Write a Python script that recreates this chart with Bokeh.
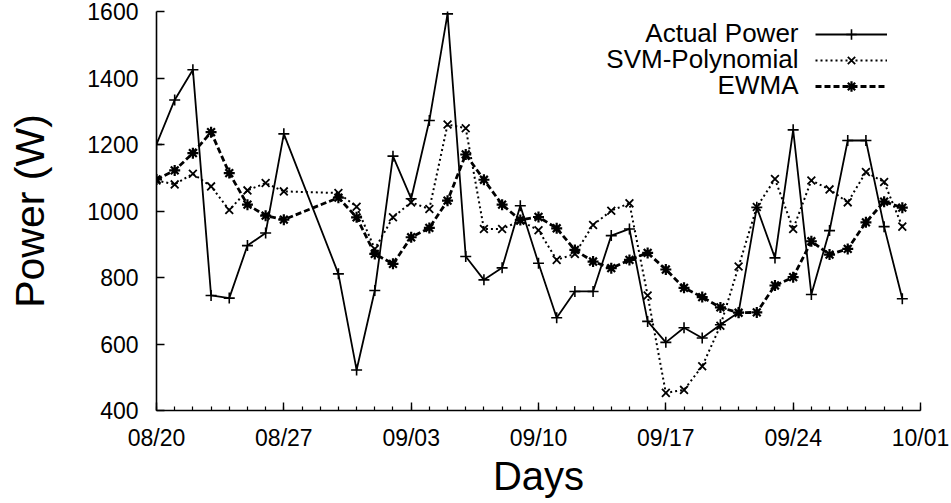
import pandas as pd
from bokeh.plotting import figure
from bokeh.models import (FixedTicker, DatetimeTickFormatter, Range1d, Legend,
                          LegendItem, Label)
from bokeh.embed import file_html
from bokeh.resources import INLINE

# ---------------- data ----------------
YEAR = "2013"
dates = ["08/20", "08/21", "08/22", "08/23", "08/24", "08/25", "08/26", "08/27",
         "08/30", "08/31", "09/01", "09/02", "09/03", "09/04", "09/05", "09/06",
         "09/07", "09/08", "09/09", "09/10", "09/11", "09/12", "09/13", "09/14",
         "09/15", "09/16", "09/17", "09/18", "09/19", "09/20", "09/21", "09/22",
         "09/23", "09/24", "09/25", "09/26", "09/27", "09/28", "09/29", "09/30"]

actual_power = [1200, 1334, 1425, 746, 738, 896, 934, 1232,
                811, 522, 761, 1165, 1037, 1272, 1593, 863,
                793, 829, 1016, 843, 679, 758, 758, 926,
                946, 668, 605, 649, 618, 658, 695, 1011,
                859, 1244, 749, 941, 1212, 1212, 953, 736]

svm_polynomial = [1092, 1080, 1112, 1074, 1003, 1062, 1084, 1059,
                  1054, 1013, 886, 981, 1026, 1006, 1260, 1249,
                  946, 946, 971, 942, 853, 871, 958, 1001,
                  1023, 746, 453, 462, 533, 655, 833, 1012,
                  1096, 946, 1092, 1065, 1026, 1117, 1087, 953]

ewma = [1095, 1122, 1174, 1237, 1114, 1019, 986, 974,
        1040, 981, 871, 841, 921, 949, 1031, 1170,
        1094, 1019, 973, 982, 948, 883, 848, 828,
        853, 874, 824, 769, 741, 710, 694, 695,
        776, 801, 909, 869, 886, 966, 1028, 1010]

x_tick_labels = ["08/20", "08/27", "09/03", "09/10", "09/17", "09/24", "10/01"]
y_ticks = [400, 600, 800, 1000, 1200, 1400, 1600]
series_names = ["Actual Power", "SVM-Polynomial", "EWMA"]


def to_dt(labels):
    return pd.to_datetime([f"{YEAR}/{d}" for d in labels], format="%Y/%m/%d")


x = to_dt(dates)
x_major = to_dt(x_tick_labels)
x_minor = pd.date_range(x_major[0], x_major[-1], freq="D")


def ms(ts):
    return [t.value / 1e6 for t in ts]


FONT = "Liberation Sans"

p = figure(width=951, height=503, x_axis_type="datetime",
           output_backend="svg", toolbar_location=None,
           x_range=Range1d(x_major[0], x_major[-1]),
           y_range=Range1d(y_ticks[0], y_ticks[-1]),
           min_border_left=156, min_border_right=31,
           min_border_top=11, min_border_bottom=93)
p.outline_line_color = None
p.grid.visible = False
p.background_fill_color = "white"
p.border_fill_color = "white"

# axes
p.xaxis.ticker = FixedTicker(ticks=ms(x_major), minor_ticks=ms(x_minor))
p.xaxis.formatter = DatetimeTickFormatter(
    milliseconds="%m/%d", seconds="%m/%d", minsec="%m/%d", minutes="%m/%d",
    hourmin="%m/%d", hours="%m/%d", days="%m/%d", months="%m/%d", years="%m/%d")
p.yaxis.ticker = FixedTicker(ticks=y_ticks, minor_ticks=[])

for ax in (p.xaxis[0], p.yaxis[0]):
    ax.axis_line_color = "black"
    ax.axis_line_width = 1.6
    ax.major_tick_line_color = "black"
    ax.major_tick_line_width = 1.4
    ax.minor_tick_line_color = "black"
    ax.minor_tick_line_width = 1.2
    ax.major_tick_in = 8
    ax.major_tick_out = 0
    ax.minor_tick_in = 4
    ax.minor_tick_out = 0
    ax.major_label_text_font = FONT
    ax.major_label_text_font_size = "23px"
    ax.major_label_text_color = "black"
    ax.axis_label_text_font = FONT
    ax.axis_label_text_font_style = "normal"
    ax.axis_label_text_color = "black"

p.yaxis.major_label_standoff = 18
p.xaxis.major_label_standoff = 14
p.yaxis.axis_label = "Power (W)"
p.yaxis.axis_label_text_font_size = "41px"
p.yaxis.axis_label_standoff = 31
p.xaxis.axis_label = "Days"
p.xaxis.axis_label_text_font_size = "40px"
p.xaxis.axis_label_standoff = 0

# series
r1l = p.line(x, actual_power, line_color="black", line_width=1.8)
r1m = p.scatter(x, actual_power, marker="cross", size=11, line_color="black",
                line_width=1.6)
r2l = p.line(x, svm_polynomial, line_color="black", line_width=2,
             line_dash="2 3")
r2m = p.scatter(x, svm_polynomial, marker="x", size=11, line_color="black",
                line_width=1.8)
r3l = p.line(x, ewma, line_color="black", line_width=2.8, line_dash="6 3")
r3m = p.scatter(x, ewma, marker="asterisk", size=11, line_color="black",
                line_width=2.2)

# gnuplot-style key: text on the left, sample on the right
legend = Legend(items=[LegendItem(label=" ", renderers=[r1l, r1m]),
                       LegendItem(label=" ", renderers=[r2l, r2m]),
                       LegendItem(label=" ", renderers=[r3l, r3m])],
                location=(659, 311), orientation="vertical",
                glyph_width=72, glyph_height=26, label_height=26,
                label_width=1, label_standoff=0, spacing=0, padding=0,
                margin=0, border_line_alpha=0, background_fill_alpha=0,
                label_text_font_size="1px")
p.add_layout(legend)

for i, name in enumerate(series_names):
    p.add_layout(Label(x=642, y=378 - 26 * i, x_units="screen",
                       y_units="screen", text=name, text_align="right",
                       text_baseline="middle", text_font=FONT,
                       text_font_size="26px", text_color="black"))

open("out.html", "w").write(file_html(p, INLINE))
